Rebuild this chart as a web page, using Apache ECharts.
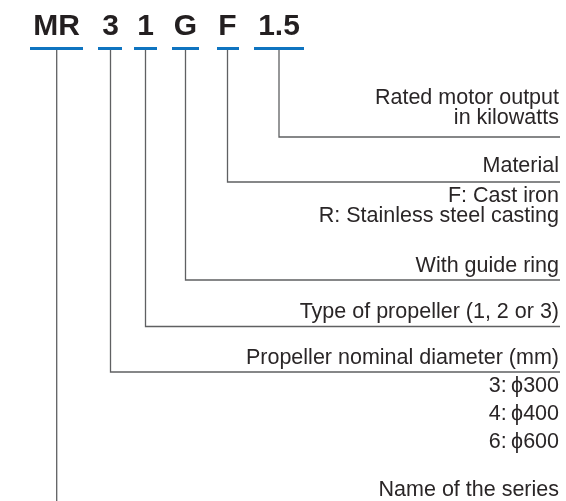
<!DOCTYPE html>
<html>
<head>
<meta charset="utf-8">
<script src="https://cdn.jsdelivr.net/npm/echarts@6/dist/echarts.min.js"></script>
<style>
html,body{margin:0;padding:0;background:#fff;}
#chart{width:566px;height:501px;}
</style>
</head>
<body>
<div id="chart"></div>
<script>
// ---- Data (diagram coordinates in axis units) ----
const codeParts   = ['MR', '3', '1', 'G', 'F', '1.5'];
const partStart   = [30, 98, 134, 172, 217, 254];
const partEnd     = [83, 122, 157, 199, 239, 304];
const leaderX     = [56.7, 110.5, 145.5, 185.5, 227.5, 279];
const leaderEndY  = [505, 372, 326.5, 280, 182, 137];
const codeY       = 27;
const underlineY  = 48;
const leaderTopY  = 49.5;
const ruleEndX    = 560;

const labelText = [
  'Rated motor output',
  'in kilowatts',
  'Material',
  'F: Cast iron',
  'R: Stainless steel casting',
  'With guide ring',
  'Type of propeller (1, 2 or 3)',
  'Propeller nominal diameter (mm)',
  '3:\u2009\u03d5300',
  '4:\u2009\u03d5400',
  '6:\u2009\u03d5600',
  'Name of the series'
];
const labelY = [98.5, 118.5, 166.5, 196, 216.5, 266.5, 312.5, 358.5, 386.5, 414.5, 442.5, 490];
const labelX = 559;

// ---- Build options ----
const chart = echarts.init(document.getElementById('chart'), null, {renderer: 'canvas'});

const underlineData = codeParts.map((c, i) => ({coords: [[partStart[i], underlineY], [partEnd[i], underlineY]]}));
const leaderData = codeParts.map((c, i) => {
  const coords = [[leaderX[i], leaderTopY], [leaderX[i], leaderEndY[i]]];
  if (i > 0) coords.push([ruleEndX, leaderEndY[i]]);
  return {coords};
});

const option = {
  animation: false,
  backgroundColor: '#ffffff',
  grid: {left: 0, right: 0, top: 0, bottom: 0},
  xAxis: {type: 'value', min: 0, max: 566, show: false},
  yAxis: {type: 'value', min: 0, max: 501, inverse: true, show: false},
  series: [
    {
      type: 'lines',
      coordinateSystem: 'cartesian2d',
      polyline: true,
      silent: true,
      lineStyle: {color: '#5f6062', width: 1.3, opacity: 1},
      data: leaderData
    },
    {
      type: 'lines',
      coordinateSystem: 'cartesian2d',
      silent: true,
      lineStyle: {color: '#0f74c0', width: 3, opacity: 1},
      data: underlineData
    },
    {
      type: 'custom',
      coordinateSystem: 'cartesian2d',
      silent: true,
      data: codeParts.map((c, i) => [leaderX[i], codeY]),
      renderItem: function (params, api) {
        const p = api.coord([api.value(0), api.value(1)]);
        return {
          type: 'text',
          x: p[0], y: p[1],
          style: {
            text: codeParts[params.dataIndex],
            font: 'bold 30px "Liberation Sans", Arial, sans-serif',
            fill: '#231f20',
            align: 'center',
            verticalAlign: 'middle'
          }
        };
      }
    },
    {
      type: 'custom',
      coordinateSystem: 'cartesian2d',
      silent: true,
      data: labelY.map(y => [labelX, y]),
      renderItem: function (params, api) {
        const p = api.coord([api.value(0), api.value(1)]);
        return {
          type: 'text',
          x: p[0], y: p[1],
          style: {
            text: labelText[params.dataIndex],
            font: '21.5px "Liberation Sans", Arial, sans-serif',
            fill: '#2a2627',
            align: 'right',
            verticalAlign: 'middle'
          }
        };
      }
    }
  ]
};
chart.setOption(option);
</script>
</body>
</html>
